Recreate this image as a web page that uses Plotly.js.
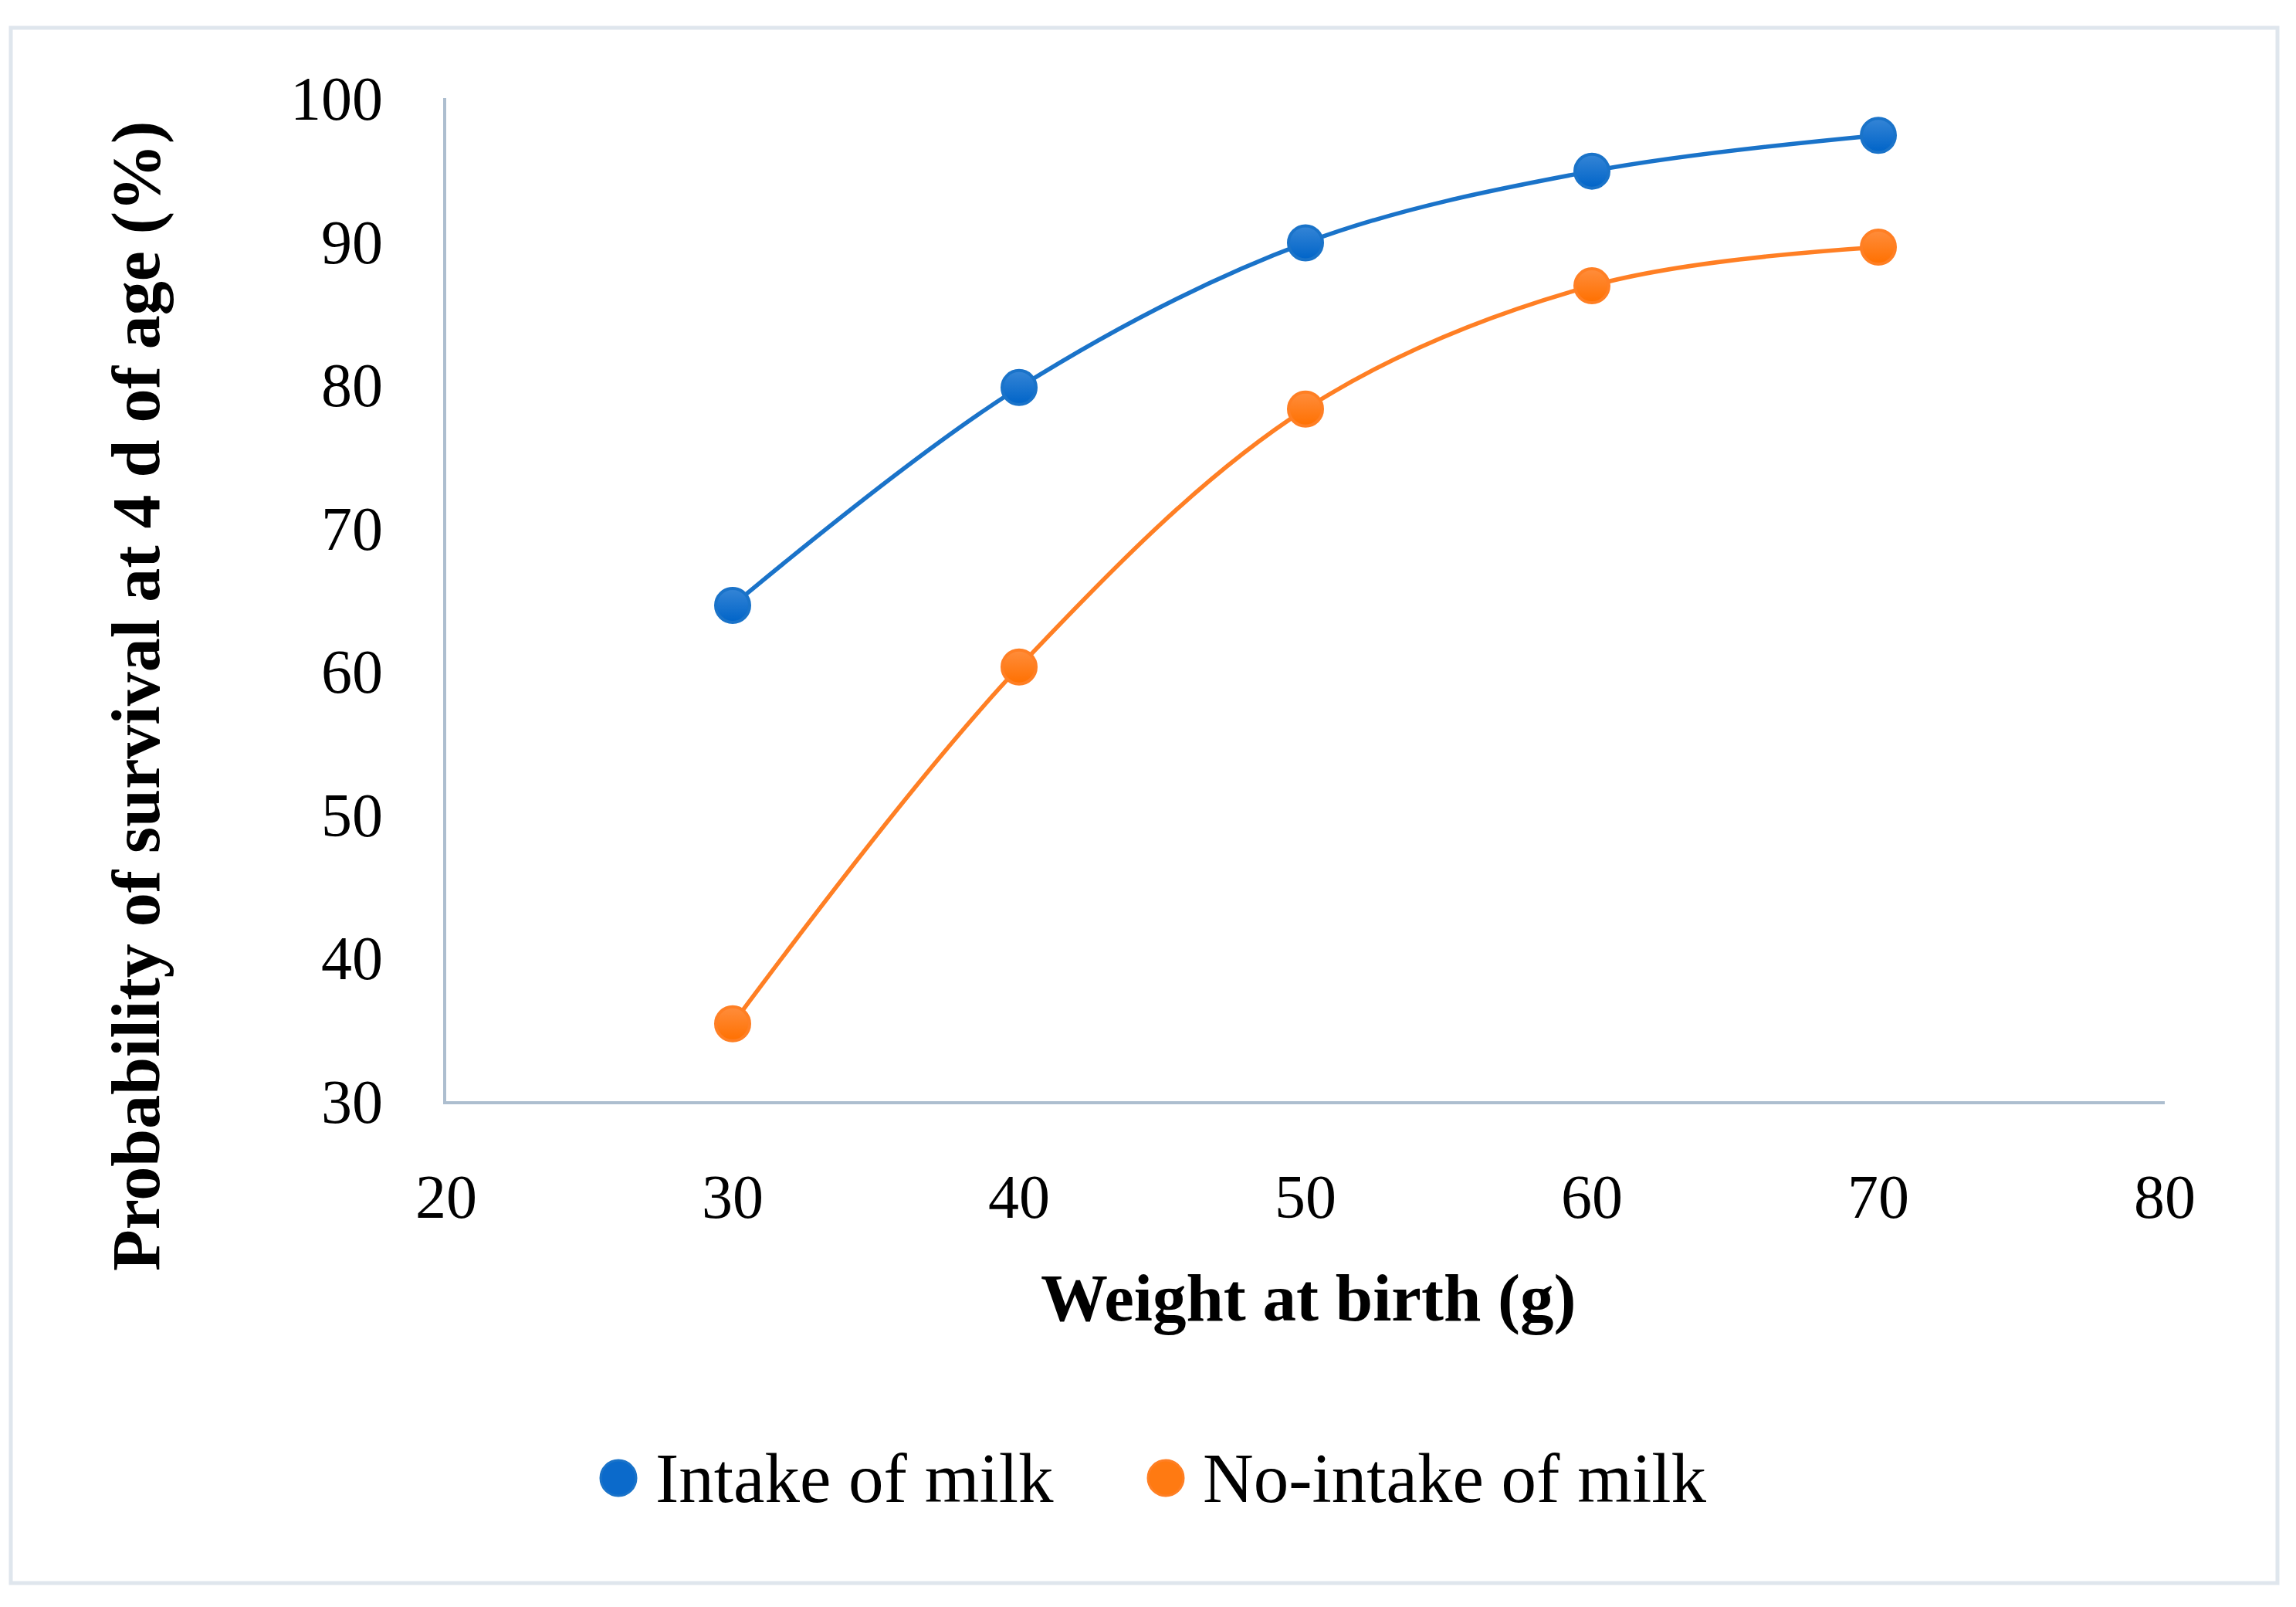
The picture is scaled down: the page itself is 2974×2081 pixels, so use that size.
<!DOCTYPE html>
<html><head><meta charset="utf-8">
<script src="https://cdn.plot.ly/plotly-3.0.1.min.js"></script>
<style>html,body{margin:0;padding:0;background:#fff;overflow:hidden}</style>
</head><body><div id="chart" style="width:2974px;height:2081px"></div>
<script>
// ---- data ----
const weights = [30, 40, 50, 60, 70];
const intakeOfMilk = [64.6, 79.8, 89.9, 94.9, 97.4];
const noIntakeOfMilk = [35.4, 60.3, 78.3, 86.9, 89.6];
const seriesNames = ['Intake of milk', 'No-intake of milk'];
const xTicks = [20, 30, 40, 50, 60, 70, 80];
const yTicks = [30, 40, 50, 60, 70, 80, 90, 100];
const xTitle = 'Weight at birth (g)';
const yTitle = 'Probability of survival at 4 d of age (%)';

// ---- styling ----
const W = 2974, H = 2081;
const M = {l: 578, r: 170, t: 127, b: 655};
const PW = W - M.l - M.r, PH = H - M.t - M.b;
const px = v => (v - M.l) / PW;          // page px -> paper x
const py = v => (H - M.b - v) / PH;      // page px -> paper y
const FONT = '"Liberation Serif", "DejaVu Serif", serif';
const blueTop = '#3585d6', blueBottom = '#0064c8', blueLine = '#1a73c9';
const orangeTop = '#ff8d3c', orangeBottom = '#ff7000', orangeLine = '#ff7f24';
const axisColor = '#adbecf';

const lineTrace = (y, c) => ({
  x: weights, y: y, type: 'scatter', mode: 'lines',
  line: {color: c, width: 5.5, shape: 'spline', smoothing: 1},
  showlegend: false, hoverinfo: 'skip'
});
const markerTrace = (y, top, bottom, edge, name) => ({
  x: weights, y: y, type: 'scatter', mode: 'markers', name: name,
  marker: {color: top, size: 44, gradient: {type: 'vertical', color: bottom},
           line: {color: edge, width: 4}},
  showlegend: false
});

const data = [
  lineTrace(intakeOfMilk, blueLine),
  lineTrace(noIntakeOfMilk, orangeLine),
  markerTrace(intakeOfMilk, blueTop, blueBottom, blueLine, seriesNames[0]),
  markerTrace(noIntakeOfMilk, orangeTop, orangeBottom, orangeLine, seriesNames[1])
];

const legendY = 1914;
const legendItems = [
  {name: seriesNames[0], color: '#0b6acb', edge: blueLine, mx: 801, tx: 847},
  {name: seriesNames[1], color: '#ff7a12', edge: orangeLine, mx: 1510, tx: 1556}
];

const shapes = [
  {type: 'rect', xref: 'paper', yref: 'paper', layer: 'below',
   x0: px(14), x1: px(2950), y0: py(36), y1: py(2050),
   line: {color: '#dfe6ed', width: 5}, fillcolor: 'rgba(0,0,0,0)'}
];
legendItems.forEach(it => shapes.push({
  type: 'circle', xref: 'paper', yref: 'paper',
  xsizemode: 'pixel', ysizemode: 'pixel',
  xanchor: px(it.mx), yanchor: py(legendY),
  x0: -23, x1: 23, y0: -23, y1: 23,
  fillcolor: it.color, line: {color: it.edge, width: 3}
}));

const annotations = [
  {text: '<b>' + yTitle + '</b>', xref: 'paper', yref: 'paper',
   x: px(176), y: py(902), xanchor: 'center', yanchor: 'middle',
   textangle: -90, showarrow: false, font: {family: FONT, size: 88, color: '#000'}},
  {text: '<b>' + xTitle + '</b>', xref: 'paper', yref: 'paper',
   x: px(1695), y: py(1680), xanchor: 'center', yanchor: 'middle',
   showarrow: false, font: {family: FONT, size: 87, color: '#000'}}
];
legendItems.forEach(it => annotations.push({
  text: it.name, xref: 'paper', yref: 'paper',
  x: px(it.tx), y: py(legendY), xanchor: 'left', yanchor: 'middle',
  showarrow: false, font: {family: FONT, size: 91, color: '#000'}
}));

const layout = {
  width: W, height: H, margin: M,
  paper_bgcolor: '#fff', plot_bgcolor: '#fff',
  font: {family: FONT, size: 80, color: '#000'},
  showlegend: false,
  xaxis: {range: [20, 80], tickmode: 'array', tickvals: xTicks, ticktext: xTicks.map(String),
          showline: true, linecolor: axisColor, linewidth: 4, showgrid: false, zeroline: false,
          ticks: '', ticklabelstandoff: 51, tickfont: {family: FONT, size: 80, color: '#000'}},
  yaxis: {range: [30, 100], tickmode: 'array', tickvals: yTicks, ticktext: yTicks.map(String),
          showline: true, linecolor: axisColor, linewidth: 4, showgrid: false, zeroline: false,
          ticks: '', ticklabelstandoff: 62, tickfont: {family: FONT, size: 80, color: '#000'}},
  shapes: shapes,
  annotations: annotations
};

Plotly.newPlot('chart', data, layout, {displayModeBar: false, staticPlot: true});
</script>
</body></html>
